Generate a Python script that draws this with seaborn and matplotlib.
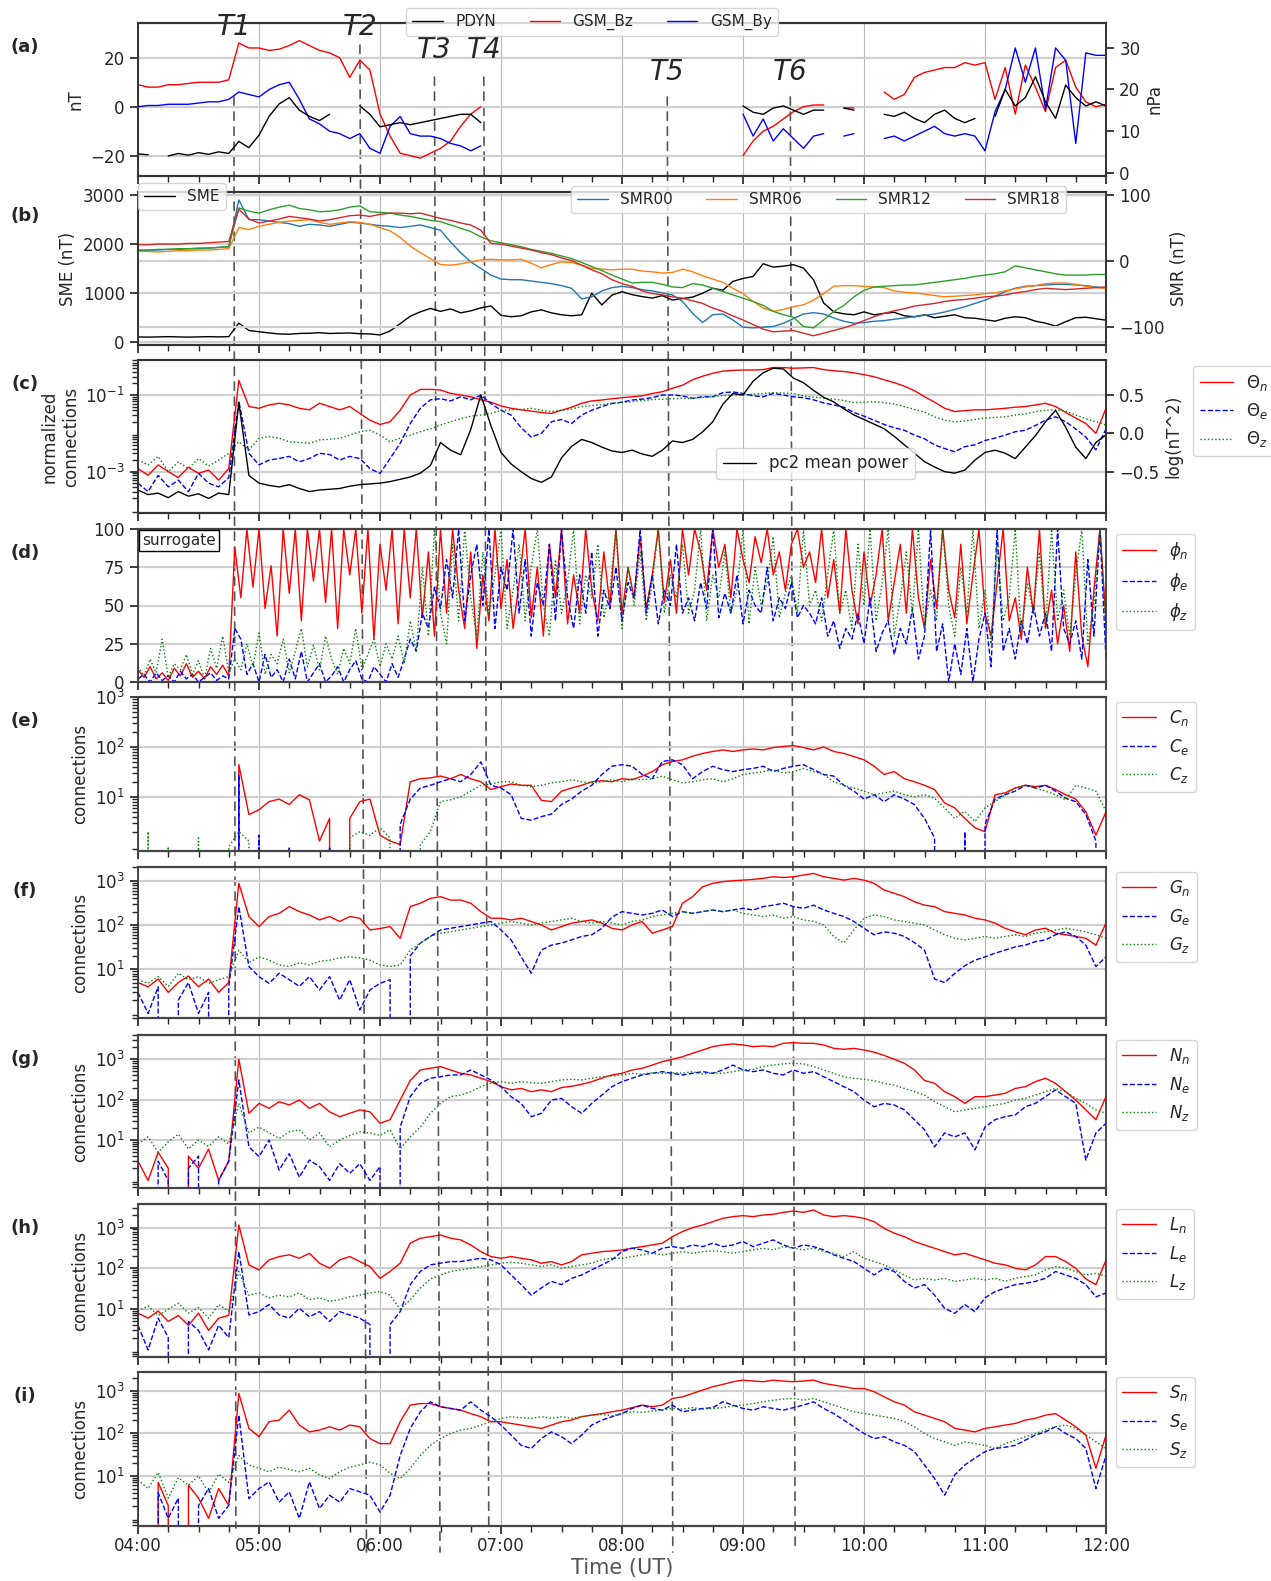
import numpy as np
import pandas as pd
import seaborn as sns
import matplotlib
matplotlib.use("Agg")
import matplotlib.pyplot as plt
import matplotlib.transforms as mtransforms
from matplotlib.patches import ConnectionPatch
from matplotlib.ticker import MultipleLocator, FuncFormatter, NullFormatter, FixedLocator

nan = np.nan

# ---------------- data: 5 min samples, 04:00 .. 12:00 (97 values) ----------------
# (a) solar wind
pdyn = [4.5, 4.3, nan, 4.0, 4.6, 4.2, 4.8, 4.4, 5.0, 4.6, 7.5, 6.0,
        9.0, 13.5, 16.5, 18.0, 15.0, 13.5, 12.5, 14.0, nan, nan, 16.0, 14.0,
        11.0, 11.5, 12.0, 11.5, 12.0, 12.5, 13.0, 13.5, 14.0, 14.0, 12.0, nan,
        nan, nan, nan, nan, nan, nan, nan, nan, nan, nan, nan, nan,
        nan, nan, nan, nan, nan, nan, nan, nan, nan, nan, nan, nan,
        16.0, 14.5, 14.0, 15.5, 16.0, 15.0, 14.0, 15.0, 15.0, nan, 15.5, 15.0,
        nan, nan, 14.0, 13.5, 14.5, 13.0, 12.0, 14.0, 15.0, 13.0, 12.0, 13.0,
        nan, 13.5, 20.0, 16.0, 18.0, 23.0, 17.0, 13.0, 21.0, 18.0, 16.0, 17.0,
        16.0]
gsm_bz = [9, 8, 8, 9, 9, 9.5, 10, 10, 10, 11, 26, 24,
          24, 23, 23.5, 25, 27, 25, 23, 22, 20, 12, 19, 15,
          -3, -12, -19, -20, -21, -19, -17, -14, -8, -3, 0, nan,
          nan, nan, nan, nan, nan, nan, nan, nan, nan, nan, nan, nan,
          nan, nan, nan, nan, nan, nan, nan, nan, nan, nan, nan, nan,
          -20, -14, -10, -8, -5, -2, 0, 0.7, 0.7, nan, -0.5, -0.5,
          nan, nan, 6, 3, 5, 12, 14, 15, 16, 16, 18, 17,
          18, 3, 16, -3, 17, 8, -2, 16, 19, 8, 2, 0,
          1]
gsm_by = [0, 0.5, 0.5, 1, 1, 1, 1.5, 2, 2, 3, 6, 5,
          4, 7, 9, 10, 3, -5, -7, -10, -11, -13, -11, -17,
          -19, -8, -4, -11, -12, -12, -13, -15, -16, -18, -16, nan,
          nan, nan, nan, nan, nan, nan, nan, nan, nan, nan, nan, nan,
          nan, nan, nan, nan, nan, nan, nan, nan, nan, nan, nan, nan,
          -3, -12, -5, -14, -9, -13, -17, -12, -11, nan, -12, -11,
          nan, nan, -13, -12, -14, -12, -10, -8, -11, -12, -11, -12,
          -18, -2, 7, 24, 10, 24, -1, 24, 19, -15, 22, 21,
          21]

# (b) SME and SMR
sme = [110, 105, 110, 115, 110, 105, 110, 115, 110, 115, 390, 240,
       215, 190, 170, 165, 180, 185, 195, 180, 185, 190, 175, 170,
       150, 230, 380, 530, 620, 690, 630, 680, 600, 640, 700, 740,
       550, 520, 540, 620, 660, 600, 560, 540, 560, 1000, 760, 960,
       1030, 970, 930, 900, 950, 860, 890, 920, 1000, 1100, 1060, 1240,
       1300, 1340, 1600, 1530, 1550, 1580, 1510, 1270, 800, 620, 580, 560,
       620, 560, 590, 610, 540, 520, 560, 500, 530, 560, 500, 490,
       460, 430, 490, 520, 500, 430, 390, 330, 420, 500, 510, 480,
       450]
smr00 = [15, 16, 16, 17, 17, 18, 18, 19, 20, 21, 92, 62,
         62, 60, 58, 56, 52, 55, 54, 52, 55, 58, 57, 55,
         53, 52, 50, 52, 54, 50, 46, 28, 12, -2, -12, -22,
         -28, -29, -29, -31, -33, -35, -38, -42, -58, -55, -46, -41,
         -39, -41, -44, -46, -49, -52, -62, -80, -94, -82, -81, -90,
         -101, -102, -101, -100, -95, -88, -81, -79, -81, -87, -92, -95,
         -94, -92, -91, -89, -87, -85, -83, -81, -78, -74, -70, -65,
         -60, -54, -47, -42, -39, -38, -37, -36, -36, -37, -38, -40,
         -42]
smr06 = [14, 14, 13, 14, 15, 15, 16, 16, 17, 18, 50, 47,
         52, 55, 58, 60, 61, 62, 58, 55, 57, 59, 58, 55,
         50, 45, 35, 22, 12, 3, -6, -7, -5, -2, 1, 2,
         1, 1, 2, -4, -11, -6, -2, -3, -7, -12, -13, -14,
         -13, -13, -16, -17, -19, -18, -13, -17, -23, -28, -33, -42,
         -50, -62, -72, -77, -74, -70, -67, -60, -50, -39, -38, -38,
         -39, -40, -41, -46, -48, -49, -51, -53, -55, -54, -53, -52,
         -50, -49, -46, -43, -40, -38, -35, -34, -34, -36, -39, -41,
         -42]
smr12 = [16, 16, 17, 17, 18, 18, 19, 19, 20, 21, 80, 75,
         72, 77, 81, 84, 79, 77, 74, 75, 77, 81, 83, 74,
         73, 72, 69, 67, 64, 61, 59, 54, 49, 44, 36, 30,
         27, 24, 21, 17, 14, 11, 7, 3, -3, -9, -15, -22,
         -28, -34, -33, -33, -36, -40, -41, -35, -37, -42, -47, -52,
         -57, -62, -68, -77, -82, -86, -100, -102, -90, -77, -68, -55,
         -45, -40, -39, -38, -37, -37, -35, -33, -31, -29, -27, -24,
         -22, -20, -17, -8, -11, -14, -17, -20, -22, -22, -22, -21,
         -21]
smr18 = [24, 24, 25, 25, 25, 26, 26, 27, 28, 29, 78, 63,
         57, 60, 63, 67, 65, 63, 60, 62, 65, 68, 69, 67,
         70, 72, 72, 71, 72, 68, 64, 61, 57, 54, 46, 26,
         25, 22, 19, 16, 12, 9, 4, 0, -7, -14, -20, -29,
         -35, -39, -46, -50, -52, -55, -57, -61, -65, -72, -77, -84,
         -90, -97, -104, -108, -107, -106, -110, -114, -110, -106, -102, -97,
         -91, -85, -80, -76, -73, -69, -67, -65, -62, -60, -59, -57,
         -55, -54, -52, -49, -47, -44, -42, -43, -44, -43, -42, -41,
         -40]

# (c) normalized connections and pc2 mean power
theta_n = [0.0012, 0.0008, 0.0015, 0.0010, 0.0007, 0.0013, 0.0009, 0.0011, 0.0006, 0.0012, 0.24, 0.05,
           0.045, 0.055, 0.061, 0.055, 0.045, 0.041, 0.061, 0.05, 0.041, 0.05, 0.033, 0.022,
           0.017, 0.02, 0.04, 0.10, 0.14, 0.14, 0.135, 0.11, 0.10, 0.09, 0.075, 0.065,
           0.052, 0.045, 0.041, 0.038, 0.035, 0.033, 0.040, 0.048, 0.061, 0.07, 0.074, 0.08,
           0.085, 0.09, 0.095, 0.11, 0.122, 0.15, 0.18, 0.25, 0.31, 0.37, 0.42, 0.44,
           0.45, 0.45, 0.46, 0.52, 0.52, 0.50, 0.51, 0.52, 0.46, 0.43, 0.41, 0.38,
           0.34, 0.30, 0.25, 0.21, 0.17, 0.13, 0.09, 0.065, 0.045, 0.037, 0.039, 0.041,
           0.041, 0.043, 0.045, 0.048, 0.05, 0.055, 0.061, 0.05, 0.035, 0.025, 0.018, 0.01,
           0.045]
theta_e = [0.0005, 0.0003, 0.0008, 0.0004, 0.0006, 0.0003, 0.0009, 0.0005, 0.0004, 0.0007, 0.07, 0.003,
           0.0015, 0.002, 0.0022, 0.0025, 0.0018, 0.0022, 0.003, 0.0028, 0.002, 0.0025, 0.0022, 0.0012,
           0.0009, 0.0022, 0.0055, 0.018, 0.045, 0.075, 0.08, 0.07, 0.09, 0.075, 0.1, 0.06,
           0.04, 0.03, 0.014, 0.008, 0.01, 0.02, 0.023, 0.018, 0.03, 0.04, 0.05, 0.06,
           0.065, 0.074, 0.078, 0.085, 0.1, 0.1, 0.095, 0.082, 0.09, 0.09, 0.115, 0.12,
           0.11, 0.095, 0.09, 0.11, 0.1, 0.09, 0.085, 0.075, 0.062, 0.055, 0.048, 0.035,
           0.028, 0.022, 0.017, 0.014, 0.012, 0.009, 0.0072, 0.005, 0.004, 0.0033, 0.0045, 0.005,
           0.0065, 0.0075, 0.009, 0.011, 0.012, 0.016, 0.022, 0.027, 0.02, 0.013, 0.008, 0.0037,
           0.013]
theta_z = [0.002, 0.0015, 0.0025, 0.001, 0.0018, 0.0012, 0.0022, 0.0014, 0.002, 0.003, 0.006, 0.0037,
           0.0074, 0.0082, 0.0075, 0.006, 0.0058, 0.0055, 0.0067, 0.007, 0.0074, 0.009, 0.011, 0.012,
           0.009, 0.006, 0.0075, 0.009, 0.011, 0.013, 0.0165, 0.02, 0.024, 0.028, 0.03, 0.033,
           0.04, 0.041, 0.042, 0.045, 0.04, 0.037, 0.04, 0.043, 0.05, 0.053, 0.056, 0.061,
           0.064, 0.067, 0.072, 0.076, 0.078, 0.08, 0.082, 0.082, 0.086, 0.09, 0.097, 0.1,
           0.1, 0.105, 0.11, 0.115, 0.113, 0.11, 0.095, 0.088, 0.082, 0.078, 0.072, 0.063,
           0.065, 0.067, 0.063, 0.058, 0.05, 0.042, 0.036, 0.027, 0.022, 0.02, 0.021, 0.023,
           0.025, 0.026, 0.027, 0.03, 0.032, 0.037, 0.04, 0.041, 0.038, 0.03, 0.024, 0.02,
           0.0165]
pc2_power = [-0.74, -0.80, -0.78, -0.84, -0.76, -0.82, -0.79, -0.85, -0.78, -0.80, 0.40, -0.55,
             -0.65, -0.68, -0.70, -0.67, -0.72, -0.76, -0.74, -0.73, -0.72, -0.69, -0.67, -0.66,
             -0.65, -0.63, -0.60, -0.57, -0.52, -0.42, -0.12, -0.22, -0.28, 0.05, 0.50, 0.10,
             -0.25, -0.40, -0.50, -0.59, -0.64, -0.57, -0.32, -0.17, -0.08, -0.12, -0.18, -0.23,
             -0.25, -0.22, -0.27, -0.30, -0.22, -0.10, -0.12, -0.08, 0.02, 0.15, 0.38, 0.52,
             0.50, 0.68, 0.79, 0.85, 0.84, 0.72, 0.66, 0.56, 0.47, 0.41, 0.32, 0.24,
             0.18, 0.12, 0.06, -0.04, -0.15, -0.26, -0.37, -0.44, -0.50, -0.52, -0.48, -0.35,
             -0.25, -0.22, -0.26, -0.33, -0.18, -0.03, 0.15, 0.30, 0.08, -0.18, -0.33, -0.12,
             -0.02]

# (d) surrogate, 3 min samples (161 values)
phi_n = [8, 3, 10, 2, 6, 1, 9, 4, 12, 3, 7, 2, 10, 5, 11, 4,
         88,
         55, 100, 62, 100, 48, 76, 30, 100, 58, 100, 40, 100, 66, 100, 52, 100, 35, 100, 70, 100,
         45, 100, 28, 90, 60, 100, 38,
         100, 55, 100, 42, 85, 30, 100,
         45, 100, 60, 35, 85, 22, 70, 40, 100, 48, 80, 35, 65, 100, 42, 75, 30, 90, 55, 100,
         38, 70, 45, 100, 60, 40, 85, 50, 100, 45, 75, 55, 95, 48, 70, 100, 52, 80, 45, 100,
         70, 100, 85, 60, 100, 75, 90, 55, 100, 80, 65, 95, 78, 100, 70, 85, 60, 90, 100, 75,
         85, 65, 100,
         55, 80, 45, 100, 60, 38, 85, 50, 70, 100, 40, 65, 90, 45, 100, 55, 35, 80, 48, 100,
         60, 42, 90, 38, 70, 100, 45, 30, 65, 100, 40, 55, 28, 75, 45, 100, 35, 60, 25, 50,
         20, 85, 30, 10, 60, 100, 40]
phi_e = [2, 5, 0, 6, 1, 4, 0, 7, 2, 5, 0, 3, 6, 1, 4, 2,
         35,
         28, 5, 12, 0, 18, 3, 8, 0, 15, 2, 20, 0, 6, 12, 0, 4, 10, 0, 8, 14,
         2, 0, 10, 5, 0, 12, 3,
         15, 28, 20, 45, 35, 62, 48,
         80, 55, 100, 40, 70, 90, 50, 100, 35, 75, 60, 100, 45, 80, 30, 65, 50, 90, 40, 100,
         55, 35, 70, 45, 85, 30, 60, 48, 75, 40, 65, 55, 100, 45, 70, 38, 60, 50, 90, 45,
         55, 40, 65, 48, 100, 42, 58, 45, 70, 38, 60, 50, 45, 75, 40, 55, 48, 65, 42, 50,
         45, 38, 55,
         30, 40, 22, 35, 28, 45, 25, 55, 20, 32, 40, 18, 35, 25, 48, 15, 30, 100, 20, 38,
         0, 25, 5, 35, 0, 28, 45, 10, 100, 20, 35, 15, 40, 25, 50, 30, 45, 20, 100, 35,
         25, 40, 15, 80, 30, 100, 15]
phi_z = [10, 4, 15, 6, 28, 3, 12, 8, 18, 5, 14, 2, 22, 9, 30, 6,
         15,
         8, 25, 10, 32, 5, 18, 12, 28, 6, 20, 35, 10, 24, 8, 30, 15, 5, 22, 12, 35,
         8, 18, 28, 10, 25, 15, 30,
         12, 40, 20, 75, 30, 100, 45,
         25, 90, 40, 100, 55, 30, 85, 45, 70, 100, 35, 60, 90, 40, 75, 100, 50, 30, 80, 45,
         65, 100, 38, 70, 55, 90, 42, 60, 100, 35, 75, 50, 85, 40, 65, 100, 45, 70, 55, 90,
         45, 60, 100, 40, 70, 55, 85, 45, 60, 100, 38, 75, 50, 65, 95, 42, 58, 70, 45, 100,
         50, 60, 40,
         70, 100, 45, 60, 35, 90, 50, 100, 40, 65, 100, 30, 55, 85, 45, 100, 35, 60, 40, 100,
         50, 30, 75, 45, 100, 35, 60, 25, 90, 40, 55, 100, 30, 65, 45, 85, 35, 100, 40, 60,
         30, 70, 100, 25, 50, 100, 35]

# (e) C connections
c_n = [0, 0, 0, 0, 0, 0, 0, 0, 0, 0, 44, 4.4,
       5.5, 8, 9, 7, 11, 8.7, 1.3, 3.7, 0, 3.7, 8, 9,
       1.7, 1.3, 1.1, 20, 23, 24, 26, 23, 28, 23, 20, 14,
       16, 18, 17, 17, 8.5, 8, 13, 15, 17, 20, 21, 20,
       23, 22, 26, 32, 44, 51, 55, 65, 74, 81, 87, 81,
       87, 91, 87, 97, 102, 106, 97, 87, 100, 81, 74, 64,
       55, 41, 28, 32, 23, 20, 17, 14, 7.5, 6, 3.7, 2.4,
       2.0, 11, 12, 15, 17, 16, 17, 14, 11, 9, 5, 1.7,
       5]
c_e = [0, 0, 0, 0, 0, 0, 0, 0, 0, 0, 28, 0,
       1.7, 0, 0, 1, 0, 0, 0, 1, 0, 0, 0, 0,
       0, 0, 2.8, 9, 15, 17, 20, 23, 20, 28, 50, 17,
       15, 11, 3.7, 3.4, 4, 4.5, 7, 9, 13, 17, 28, 41,
       44, 41, 28, 23, 51, 55, 44, 23, 32, 41, 35, 32,
       35, 37, 41, 32, 37, 41, 44, 35, 28, 26, 17, 13,
       9, 11, 8, 11, 9, 7, 3.7, 1.5, 0, 0, 2, 0,
       2.8, 9, 11, 13, 17, 15, 17, 13, 9.3, 8, 4.4, 1.3,
       0]
c_z = [0, 2, 0, 1, 0, 0, 1.5, 0, 0, 1, 2, 1.3,
       0, 0, 0, 0, 0, 0, 0, 0, 0, 1.5, 2, 1.7,
       2.4, 1.5, 0, 0, 1.1, 2, 8, 8.7, 10, 13, 17, 18,
       20, 20, 17, 16, 17, 19, 20, 22, 20, 19, 20, 22,
       20, 23, 22, 23, 26, 22, 19, 20, 22, 23, 20, 23,
       28, 30, 32, 35, 30, 32, 37, 32, 28, 20, 17, 15,
       13, 11, 12, 13, 11, 10, 11, 9.3, 6, 3.7, 5.1, 3.2,
       6, 8, 11, 15, 17, 15, 13, 11, 8.7, 17, 15, 13,
       5.1]

# (f) G connections
g_n = [5, 4, 6, 3, 5, 7, 4, 6, 3, 5, 870, 155,
       92, 155, 183, 260, 200, 168, 130, 155, 120, 155, 142, 77,
       83, 92, 50, 260, 310, 400, 435, 365, 365, 310, 200, 142,
       142, 130, 142, 120, 100, 77, 92, 110, 120, 130, 110, 84,
       77, 100, 120, 65, 77, 92, 310, 435, 730, 870, 950, 1000,
       1030, 1070, 1130, 1230, 1180, 1230, 1340, 1460, 1230, 1130, 1030, 1130,
       1030, 870, 615, 520, 435, 335, 280, 260, 200, 183, 168, 142,
       130, 110, 84, 70, 60, 77, 84, 65, 60, 55, 50, 35,
       110]
g_e = [3, 1, 4, 0, 2, 5, 1, 3, 0, 4, 260, 11.5,
       6.8, 4.8, 8.1, 5.8, 4.1, 6.8, 3.4, 6.8, 2.0, 5.8, 1.2, 3.4,
       4.8, 5.8, 0, 20, 39, 55, 77, 84, 92, 100, 110, 120,
       77, 46, 19, 8.1, 27, 35, 39, 46, 55, 60, 84, 150,
       200, 183, 168, 183, 218, 155, 200, 183, 200, 218, 200, 218,
       238, 218, 260, 280, 310, 260, 238, 280, 218, 183, 155, 120,
       84, 60, 70, 65, 55, 40, 27, 6, 5, 8, 12, 16,
       19, 23, 27, 32, 35, 42, 46, 60, 70, 55, 35, 11.5,
       19]
g_z = [5.8, 4.8, 6.8, 4.1, 8.1, 5.8, 6.8, 4.8, 5.8, 6.8, 27, 14,
       19, 16, 12.5, 11.5, 14, 12.5, 15, 16, 18, 19, 18, 16,
       12.5, 11.5, 12.5, 27, 39, 55, 65, 70, 77, 84, 92, 100,
       110, 120, 110, 100, 110, 120, 130, 142, 120, 110, 120, 110,
       100, 120, 130, 155, 168, 183, 200, 183, 200, 218, 200, 218,
       183, 168, 155, 168, 142, 155, 130, 120, 100, 55, 39, 77,
       142, 168, 155, 130, 120, 110, 100, 77, 60, 50, 46, 50,
       55, 50, 55, 60, 55, 65, 70, 77, 84, 77, 70, 60,
       50]

# (g) N connections
n_n = [3, 1, 5, 2, 0, 4, 2, 6, 1, 3, 1000, 46,
       81, 61, 89, 74, 98, 61, 81, 50, 38, 46, 56, 50,
       26, 32, 98, 300, 545, 600, 660, 545, 450, 410, 340, 280,
       210, 175, 190, 158, 175, 158, 200, 215, 240, 280, 340, 410,
       450, 545, 600, 720, 875, 1000, 1160, 1410, 1700, 2060, 2270, 2400,
       2270, 2060, 2140, 2060, 2490, 2590, 2490, 2490, 2270, 1870, 1770, 1870,
       1700, 1500, 1250, 1000, 800, 545, 300, 254, 158, 119, 81, 119,
       119, 130, 144, 190, 210, 280, 340, 254, 158, 98, 56, 32,
       119]
n_e = [2, 0, 3, 1, 0, 2, 4, 0, 1, 3, 308, 6.8,
       3.9, 10, 1.8, 4.6, 1.2, 3.2, 2.2, 1.0, 2.6, 1.5, 2.6, 1.0,
       2.2, 0, 21, 119, 254, 340, 370, 410, 410, 545, 410, 308,
       210, 119, 81, 38, 46, 98, 108, 67, 46, 81, 130, 210,
       280, 340, 410, 450, 495, 450, 410, 450, 495, 450, 545, 720,
       545, 495, 545, 450, 410, 545, 450, 495, 370, 280, 210, 158,
       98, 67, 81, 74, 56, 32, 18, 6.8, 15, 12, 15, 5.7,
       21, 32, 38, 42, 67, 81, 119, 175, 119, 81, 3.2, 15,
       26]
n_z = [8, 12, 5, 9, 14, 6, 10, 7, 12, 8, 81, 15,
       21, 15, 11, 16, 18, 10, 15, 6.8, 10, 13, 16, 15,
       13, 18, 6, 12, 21, 46, 81, 119, 130, 158, 210, 254,
       280, 254, 280, 264, 254, 280, 308, 320, 308, 340, 370, 385,
       410, 450, 430, 467, 450, 467, 450, 495, 430, 467, 450, 495,
       545, 565, 660, 720, 770, 800, 770, 660, 545, 450, 370, 340,
       320, 296, 254, 230, 190, 158, 130, 89, 67, 50, 56, 61,
       67, 74, 81, 98, 108, 130, 158, 190, 158, 108, 81, 56,
       46]

# (h) L connections
l_n = [8, 6, 9, 5, 7, 4, 8, 3, 6, 7, 1160, 122,
       92, 162, 195, 215, 177, 235, 134, 101, 162, 195, 147, 111,
       57, 84, 134, 415, 550, 600, 660, 550, 500, 376, 258, 195,
       177, 195, 177, 162, 134, 147, 122, 147, 215, 235, 258, 268,
       284, 312, 342, 376, 415, 600, 800, 1000, 1160, 1400, 1690, 1860,
       1970, 1860, 2040, 2120, 2370, 2560, 2370, 2710, 2040, 1860, 1970, 1860,
       1690, 1400, 960, 730, 600, 455, 376, 312, 258, 215, 235, 195,
       162, 134, 122, 101, 92, 122, 195, 195, 147, 100, 55, 40,
       160]
l_e = [4, 1, 6, 2, 0, 5, 3, 1, 4, 2, 258, 7.2,
       8.7, 13, 7.2, 6, 10.5, 6.5, 8.7, 5, 8.7, 7.2, 6, 4.2,
       0, 4.2, 8.7, 40, 84, 122, 134, 147, 147, 162, 177, 162,
       122, 69, 40, 22, 33, 48, 40, 57, 69, 92, 122, 162,
       258, 312, 284, 235, 312, 342, 312, 376, 342, 415, 342, 376,
       455, 342, 415, 500, 376, 312, 376, 342, 284, 215, 177, 147,
       101, 69, 101, 84, 48, 33, 40, 22, 10.5, 7.9, 13, 8.7,
       19, 27, 33, 40, 43, 48, 57, 84, 69, 57, 40, 20,
       25]
l_z = [9, 12, 7, 10, 14, 8, 11, 6, 13, 9, 84, 22,
       25, 19, 22, 20, 25, 17, 19, 15.5, 17, 20, 22, 25,
       27, 22, 10, 17, 33, 55, 69, 84, 92, 101, 111, 122,
       134, 141, 134, 122, 111, 122, 101, 111, 122, 134, 162, 177,
       177, 195, 215, 235, 215, 235, 258, 235, 258, 268, 258, 235,
       258, 284, 312, 284, 342, 312, 284, 312, 258, 235, 195, 258,
       177, 147, 122, 92, 69, 52, 57, 52, 57, 48, 52, 57,
       52, 57, 48, 57, 63, 69, 92, 111, 101, 84, 69, 76,
       63]

# (i) S connections
s_n = [5, 0, 7, 2, 0, 6, 3, 1, 5, 2, 865, 130,
       83, 187, 204, 350, 156, 108, 119, 142, 119, 156, 142, 75,
       57, 57, 187, 460, 500, 500, 420, 383, 350, 290, 245, 187,
       187, 170, 156, 142, 130, 156, 187, 204, 245, 267, 290, 320,
       350, 400, 460, 420, 460, 660, 720, 865, 1040, 1240, 1410, 1630,
       1780, 1690, 1630, 1780, 1690, 1630, 1690, 1780, 1490, 1360, 1240, 1130,
       1130, 950, 720, 550, 460, 320, 267, 224, 187, 130, 119, 108,
       130, 142, 156, 170, 204, 224, 267, 290, 204, 142, 91, 15,
       90]
s_e = [2, 0, 4, 1, 3, 0, 2, 5, 1, 2, 267, 2.9,
       5, 7.2, 2.4, 4.2, 1.0, 7.2, 1.7, 3.5, 2.4, 5, 4.2, 3.5,
       1.4, 3.5, 30, 130, 320, 550, 420, 383, 350, 550, 350, 245,
       156, 91, 52, 44, 75, 108, 83, 57, 91, 156, 204, 245,
       290, 383, 460, 383, 350, 460, 320, 350, 383, 400, 550, 460,
       383, 350, 420, 383, 350, 400, 460, 550, 383, 290, 204, 142,
       99, 75, 83, 63, 52, 37, 18, 8.6, 3.5, 10.5, 18, 26,
       37, 44, 47, 52, 69, 91, 108, 142, 99, 75, 44, 5,
       30]
s_z = [8, 5, 12, 3, 9, 6, 10, 4, 11, 7, 30, 18,
       15, 12.5, 16, 14, 12.5, 15, 10.5, 8.6, 12.5, 16, 18, 21,
       18, 11.5, 8.6, 15, 30, 52, 75, 99, 119, 130, 156, 187,
       224, 245, 232, 224, 245, 224, 245, 224, 245, 267, 277, 258,
       290, 320, 310, 333, 350, 383, 370, 400, 370, 383, 400, 440,
       460, 500, 550, 600, 640, 660, 600, 660, 550, 460, 383, 320,
       290, 267, 245, 224, 187, 142, 99, 75, 63, 52, 63, 57,
       52, 44, 57, 69, 83, 99, 119, 142, 156, 130, 91, 63,
       44]

# event times (hours UT) where the dashed markers cross the top and bottom panels
event_names = ["T1", "T2", "T3", "T4", "T5", "T6"]
event_top = [4.793, 5.834, 6.450, 6.858, 8.374, 9.391]
event_bot = [4.809, 5.888, 6.496, 6.899, 8.420, 9.431]

# ---------------- figure ----------------
sns.set_theme(style="ticks")
plt.rcParams["font.family"] = ["DejaVu Sans"]
plt.rcParams["axes.edgecolor"] = "#333333"
plt.rcParams["mathtext.fontset"] = "dejavusans"

W, H = 1271, 1581
fig = plt.figure(figsize=(W / 100, H / 100), dpi=100)
fig.patch.set_facecolor("white")

X0, X1 = 138, 1106
panel_px = [(23, 176), (192, 345), (360, 513), (529, 682), (697, 851),
            (867, 1018), (1035, 1188), (1204, 1357), (1372, 1526)]
axes = []
for top, bot in panel_px:
    ax = fig.add_axes([X0 / W, 1 - bot / H, (X1 - X0) / W, (bot - top) / H])
    ax.set_facecolor("none")
    for side in ("top", "bottom"):
        ax.spines[side].set_linewidth(1.6)
        ax.spines[side].set_color("#444444")
    axes.append(ax)


def hours(vals):
    return np.linspace(4, 12, len(vals))


def line(ax, vals, **kw):
    sns.lineplot(x=hours(vals), y=vals, ax=ax, estimator=None, legend=False,
                 linewidth=1.0, **kw)
    return ax.get_lines()[-1]


def base_style(ax):
    ax.set_xlim(4, 12)
    ax.xaxis.set_major_locator(MultipleLocator(1))
    ax.xaxis.set_minor_locator(MultipleLocator(0.25))
    ax.grid(axis="x", which="major", color="#b8b8b8", lw=0.8)
    ax.grid(axis="y", which="major", color="#cfcfcf", lw=1.6)
    ax.tick_params(labelsize=12, labelbottom=False)
    ax.set_xlabel("")
    ax.set_ylabel("")


# (a)
ax = axes[0]
la_bz = ax.plot(hours(gsm_bz), gsm_bz, color="red", lw=1.0, label="GSM_Bz")[0]
la_by = ax.plot(hours(gsm_by), gsm_by, color="blue", lw=1.0, label="GSM_By")[0]
base_style(ax)
ax.set_ylim(-28.3, 34.2)
ax.set_yticks([-20, 0, 20])
ax.set_ylabel("nT", fontsize=12)
ax2 = ax.twinx()
la_pd = ax2.plot(hours(pdyn), pdyn, color="black", lw=1.0, label="PDYN")[0]
ax2.set_ylim(-0.8, 35.9)
ax2.set_yticks([0, 10, 20, 30])
ax2.tick_params(labelsize=12)
ax2.set_ylabel("nPa", fontsize=12)
ax2.legend(handles=[la_pd, la_bz, la_by], loc="upper center", bbox_to_anchor=(0.469, 1.098),
           ncol=3, fontsize=11, borderaxespad=0, columnspacing=2.2)

# (b)
ax = axes[1]
lb_sme = line(ax, sme, color="black", label="SME")
base_style(ax)
ax.set_ylim(-55, 3060)
ax.set_yticks([0, 1000, 2000, 3000])
ax.set_ylabel("SME (nT)", fontsize=12)
ax2 = ax.twinx()
smr_cols = ["tab:blue", "tab:orange", "tab:green", "tab:red"]
smr_h = []
for vals, lab, col in zip([smr00, smr06, smr12, smr18], ["SMR00", "SMR06", "SMR12", "SMR18"], smr_cols):
    smr_h.append(line(ax2, vals, color=col, label=lab))
ax2.set_ylim(-128, 104)
ax2.set_yticks([-100, 0, 100])
ax2.grid(axis="y", color="#cfcfcf", lw=1.6)
ax2.tick_params(labelsize=12)
ax2.set_ylabel("SMR (nT)", fontsize=12)
ax2.set_xlabel("")
leg1 = ax2.legend(handles=[lb_sme], loc="upper left", bbox_to_anchor=(0.0, 1.06),
                  fontsize=11, borderaxespad=0)
ax2.add_artist(leg1)
ax2.legend(handles=smr_h, loc="upper right", bbox_to_anchor=(0.959, 1.04), ncol=4,
           fontsize=11, borderaxespad=0, columnspacing=2.2)


def conn_panel(ax, n, e, z, sym):
    hn = line(ax, n, color="red", label=r"$%s_n$" % sym)
    he = line(ax, e, color="blue", linestyle="--", label=r"$%s_e$" % sym)
    hz = line(ax, z, color="green", linestyle=":", label=r"$%s_z$" % sym)
    base_style(ax)
    return [hn, he, hz]


# (c)
ax = axes[2]
hc = conn_panel(ax, theta_n, theta_e, theta_z, r"\Theta")
ax.set_yscale("log")
ax.set_ylim(10 ** -4.08, 10 ** -0.086)
ax.yaxis.set_major_locator(FixedLocator([1e-3, 1e-1]))
ax.yaxis.set_minor_formatter(NullFormatter())
ax.grid(axis="y", which="major", color="#cfcfcf", lw=1.6)
ax.set_ylabel("normalized\nconnections", fontsize=12)
ax.legend(handles=hc, loc="upper left", bbox_to_anchor=(1.09, 0.96), fontsize=12, borderaxespad=0)
ax2 = ax.twinx()
hp = line(ax2, pc2_power, color="black", label="pc2 mean power")
ax2.set_ylim(-1.04, 0.957)
ax2.set_yticks([-0.5, 0.0, 0.5])
ax2.tick_params(labelsize=12)
ax2.set_ylabel("log(nT^2)", fontsize=12)
ax2.set_xlabel("")
ax2.legend(handles=[hp], loc="lower left", bbox_to_anchor=(0.597, 0.222), fontsize=12, borderaxespad=0)

# (d)
ax = axes[3]
hd = conn_panel(ax, phi_n, phi_e, phi_z, r"\phi")
ax.set_ylim(0, 100)
ax.set_yticks([0, 25, 50, 75, 100])
ax.legend(handles=hd, loc="upper left", bbox_to_anchor=(1.01, 0.97), fontsize=12, borderaxespad=0)
ax.text(0.004, 0.975, "surrogate", transform=ax.transAxes, ha="left", va="top", fontsize=11,
        bbox=dict(boxstyle="square,pad=0.2", fc="white", ec="black", lw=1))

# (e)-(i)
conn_sets = [(c_n, c_e, c_z, "C", (0.82, 1000)),
             (g_n, g_e, g_z, "G", (0.79, 2040)),
             (n_n, n_e, n_z, "N", (0.65, 4000)),
             (l_n, l_e, l_z, "L", (0.67, 3800)),
             (s_n, s_e, s_z, "S", (0.66, 2760))]
for ax, (n, e, z, sym, lim) in zip(axes[4:], conn_sets):
    h = conn_panel(ax, n, e, z, sym)
    ax.set_yscale("log")
    ax.set_ylim(*lim)
    ax.yaxis.set_major_locator(FixedLocator([10, 100, 1000]))
    ax.yaxis.set_minor_formatter(NullFormatter())
    ax.grid(axis="y", which="major", color="#cfcfcf", lw=1.6)
    ax.set_ylabel("connections", fontsize=12)
    ax.legend(handles=h, loc="upper left", bbox_to_anchor=(1.01, 0.97), fontsize=12, borderaxespad=0)

# bottom time axis
axb = axes[-1]
axb.tick_params(axis="x", labelbottom=True, pad=2)
axb.xaxis.set_major_formatter(FuncFormatter(lambda v, p: "%02d:00" % int(round(v))))
axb.set_xlabel("Time (UT)", fontsize=15, color="#555555")
axb.xaxis.set_label_coords(0.5, -0.205)

# panel letters
for ax, letter in zip(axes, "abcdefghi"):
    ax.text(-0.117, 1 - 24 / 153, "(%s)" % letter, transform=ax.transAxes, fontsize=13,
            fontweight="bold", ha="center", va="center")

# event markers
tr_top = mtransforms.blended_transform_factory(axes[0].transData, fig.transFigure)
tr_bot = mtransforms.blended_transform_factory(axes[-1].transData, fig.transFigure)
line_top_px = [97, 45, 77, 77, 97, 97]
line_bot_px = [1528, 1552, 1552, 1532, 1552, 1548]
label_px = [27, 27, 50, 50, 72, 72]
for name, t0, t1, yt, yb, yl in zip(event_names, event_top, event_bot, line_top_px, line_bot_px, label_px):
    con = ConnectionPatch(xyA=(t0, 1 - yt / H), coordsA=tr_top, xyB=(t1, 1 - yb / H), coordsB=tr_bot,
                          color="#555555", lw=1.2, linestyle=(0, (5, 4)), zorder=-1)
    fig.add_artist(con)
    axes[0].text(t0, 1 - yl / H, name, transform=tr_top, fontsize=20, style="italic",
                 ha="center", va="center")

fig.savefig("out.png", dpi=100)
